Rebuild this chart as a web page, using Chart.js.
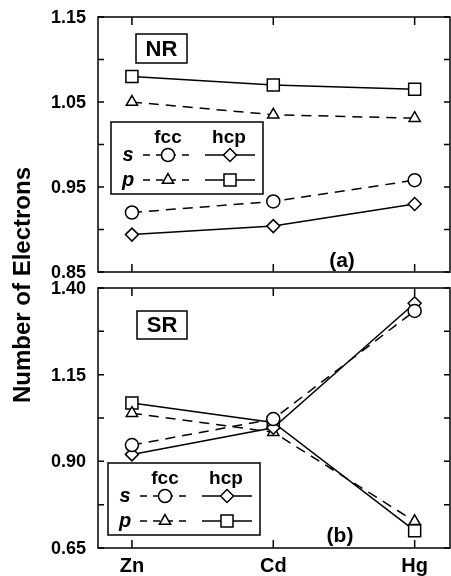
<!DOCTYPE html>
<html>
<head>
<meta charset="utf-8">
<script src="https://cdn.jsdelivr.net/npm/chart.js@4.4.0/dist/chart.umd.min.js"></script>
<style>
  body { margin: 0; background: #fff; }
  #wrap { position: relative; width: 451px; height: 576px; overflow: hidden; }
  canvas { position: absolute; left: 0; }
  #ytitle {
    position: absolute; left: 22px; top: 285px; width: 320px;
    transform: translate(-50%, -50%) rotate(-90deg);
    text-align: center; font: bold 24px "Liberation Sans", Arial, sans-serif; color: #000;
    white-space: nowrap;
  }
</style>
</head>
<body>
<div id="wrap">
  <canvas id="nrChart" width="451" height="282" style="top:0"></canvas>
  <canvas id="srChart" width="451" height="300" style="top:276px"></canvas>
  <div id="ytitle">Number of Electrons</div>
</div>
<script>
const elements = ["Zn", "Cd", "Hg"];

// NR panel (a)
const nrFccS = [0.920, 0.933, 0.958];
const nrHcpS = [0.894, 0.904, 0.930];
const nrFccP = [1.050, 1.035, 1.031];
const nrHcpP = [1.080, 1.070, 1.065];
const nrMajor = [0.85, 0.95, 1.05, 1.15];
const nrMinor = [0.90, 1.00, 1.10];

// SR panel (b)
const srFccS = [0.947, 1.022, 1.334];
const srHcpS = [0.920, 0.997, 1.356];
const srFccP = [1.039, 0.984, 0.727];
const srHcpP = [1.068, 1.012, 0.700];
const srMajor = [0.65, 0.90, 1.15, 1.40];
const srMinor = [0.775, 1.025, 1.275];

const FONT = "'Liberation Sans', Arial, sans-serif";

function pts(values) {
    return values.map((v, i) => ({ x: i, y: v }));
}

function series(values, shape, dashed, r) {
    return {
        data: pts(values),
        borderColor: "#000",
        borderWidth: 1.5,
        borderDash: dashed ? [10, 7] : [],
        pointStyle: shape,
        pointRadius: r,
        pointBorderWidth: 1.5,
        pointBorderColor: "#000",
        pointBackgroundColor: "#fff",
        tension: 0
    };
}

function marker(ctx, shape, x, y, r) {
    ctx.beginPath();
    if (shape === "circle") {
        ctx.arc(x, y, r, 0, Math.PI * 2);
    } else if (shape === "rect") {
        const s = Math.SQRT1_2 * r;
        ctx.rect(x - s, y - s, 2 * s, 2 * s);
    } else if (shape === "rectRot") {
        ctx.moveTo(x - r, y); ctx.lineTo(x, y - r); ctx.lineTo(x + r, y); ctx.lineTo(x, y + r);
        ctx.closePath();
    } else if (shape === "triangle") {
        for (let k = 0; k < 3; k++) {
            const a = k * 2 * Math.PI / 3;
            const px = x + Math.sin(a) * r, py = y - Math.cos(a) * r;
            k ? ctx.lineTo(px, py) : ctx.moveTo(px, py);
        }
        ctx.closePath();
    }
    ctx.fillStyle = "#fff";
    ctx.fill();
    ctx.stroke();
}

const decor = {
    id: "decor",
    afterDraw(chart, args, o) {
        const { ctx, chartArea: a, scales: { x, y } } = chart;
        ctx.save();
        ctx.strokeStyle = "#000";
        ctx.lineWidth = 1.5;
        ctx.setLineDash([]);
        ctx.strokeRect(a.left, a.top, a.right - a.left, a.bottom - a.top);

        ctx.beginPath();
        x.ticks.forEach(t => {
            const px = x.getPixelForValue(t.value);
            ctx.moveTo(px, a.top); ctx.lineTo(px, a.top + 8);
            ctx.moveTo(px, a.bottom); ctx.lineTo(px, a.bottom - 8);
        });
        y.ticks.forEach(t => {
            const py = y.getPixelForValue(t.value);
            ctx.moveTo(a.left, py); ctx.lineTo(a.left + 6, py);
            ctx.moveTo(a.right, py); ctx.lineTo(a.right - 6, py);
        });
        ctx.stroke();

        // y tick labels (major ticks only)
        ctx.fillStyle = "#000";
        ctx.font = "bold 18px " + FONT;
        ctx.textAlign = "right";
        ctx.textBaseline = "middle";
        o.major.forEach(v => {
            ctx.fillText(v.toFixed(2), a.left - 12, y.getPixelForValue(v) + 1);
        });

        // NR / SR tag
        const tg = o.tag;
        ctx.fillStyle = "#fff";
        ctx.fillRect(tg.x, tg.y, tg.w, tg.h);
        ctx.strokeRect(tg.x, tg.y, tg.w, tg.h);
        ctx.fillStyle = "#000";
        ctx.font = "bold 22px " + FONT;
        ctx.textAlign = "center";
        ctx.fillText(tg.text, tg.x + tg.w / 2, tg.y + tg.h / 2 + 1);

        // (a) / (b)
        ctx.font = "bold 21px " + FONT;
        ctx.fillText(o.panel.text, o.panel.x, o.panel.y);

        // legend box
        const b = o.box;
        ctx.fillStyle = "#fff";
        ctx.fillRect(b.x, b.y, b.w, b.h);
        ctx.strokeRect(b.x, b.y, b.w, b.h);
        ctx.fillStyle = "#000";
        ctx.font = "bold 19px " + FONT;
        ctx.fillText("fcc", b.x + 57, b.y + 16);
        ctx.fillText("hcp", b.x + 118, b.y + 16);
        ctx.font = "italic bold 20px " + FONT;
        ctx.fillText("s", b.x + 17, b.y + 33);
        ctx.fillText("p", b.x + 17, b.y + 58);

        ctx.lineWidth = 1.5;
        const rows = [
            { dy: 33, fcc: "circle", hcp: "rectRot", rf: 6.5, rh: 6.5 },
            { dy: 58, fcc: "triangle", hcp: "rect", rf: 6.5, rh: 8.5 }
        ];
        rows.forEach(r => {
            const yy = b.y + r.dy;
            ctx.beginPath();
            ctx.setLineDash([7, 6]);
            ctx.moveTo(b.x + 32, yy); ctx.lineTo(b.x + 82, yy);
            ctx.stroke();
            ctx.setLineDash([]);
            ctx.beginPath();
            ctx.moveTo(b.x + 94, yy); ctx.lineTo(b.x + 144, yy);
            ctx.stroke();
            marker(ctx, r.fcc, b.x + 57, yy, r.rf);
            marker(ctx, r.hcp, b.x + 119, yy, r.rh);
        });
        ctx.restore();
    }
};

function makeChart(id, sets, major, minor, showX, pad, xHeight, deco) {
    const ticksY = major.concat(minor).sort((p, q) => p - q);
    deco.major = major;
    return new Chart(document.getElementById(id), {
        type: "line",
        data: {
            datasets: [
                series(sets[0], "circle", true, 6.5),
                series(sets[1], "rectRot", false, 6.5),
                series(sets[2], "triangle", true, 6.5),
                series(sets[3], "rect", false, 8.5)
            ]
        },
        options: {
            responsive: false,
            animation: false,
            layout: { autoPadding: false, padding: { top: pad, right: 1, left: 0, bottom: 0 } },
            plugins: { legend: { display: false }, tooltip: { enabled: false }, decor: deco },
            scales: {
                x: {
                    type: "linear",
                    min: -0.24,
                    max: 2.25,
                    afterBuildTicks: s => { s.ticks = elements.map((e, i) => ({ value: i })); },
                    afterFit: s => { s.height = xHeight; },
                    grid: { display: false, drawTicks: false },
                    border: { display: false },
                    ticks: {
                        display: showX,
                        padding: 6,
                        color: "#000",
                        font: { family: FONT, size: 20, weight: "bold" },
                        callback: v => elements[v]
                    }
                },
                y: {
                    min: major[0],
                    max: major[major.length - 1],
                    afterBuildTicks: s => { s.ticks = ticksY.map(v => ({ value: v })); },
                    afterFit: s => { s.width = 98; },
                    grid: { display: false, drawTicks: false },
                    border: { display: false },
                    ticks: { display: false }
                }
            }
        },
        plugins: [decor]
    });
}

makeChart("nrChart", [nrFccS, nrHcpS, nrFccP, nrHcpP], nrMajor, nrMinor, false, 17, 10, {
    tag: { x: 136, y: 34, w: 51, h: 29, text: "NR" },
    panel: { text: "(a)", x: 342, y: 261 },
    box: { x: 111, y: 122, w: 152, h: 72 }
});

makeChart("srChart", [srFccS, srHcpS, srFccP, srHcpP], srMajor, srMinor, true, 12, 28, {
    tag: { x: 137, y: 311 - 276, w: 50, h: 28, text: "SR" },
    panel: { text: "(b)", x: 340, y: 536 - 276 },
    box: { x: 108, y: 463 - 276, w: 152, h: 72 }
});
</script>
</body>
</html>
